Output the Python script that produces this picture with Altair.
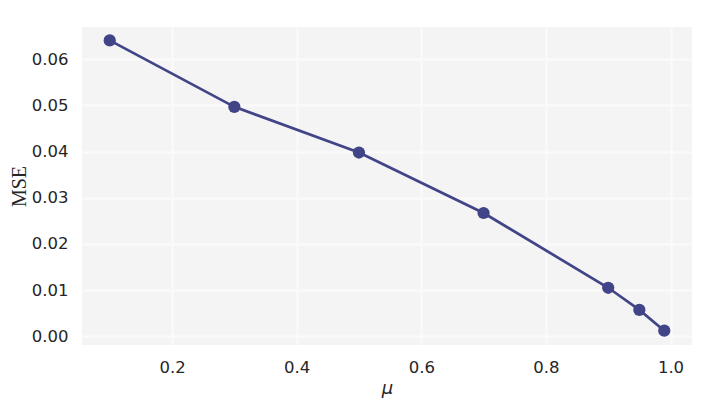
import altair as alt
import pandas as pd

mu = [0.1, 0.3, 0.5, 0.7, 0.9, 0.95, 0.99]
mse = [0.0641, 0.0497, 0.0398, 0.0267, 0.0105, 0.0057, 0.0012]
x_ticks = [0.2, 0.4, 0.6, 0.8, 1.0]
y_ticks = [0.00, 0.01, 0.02, 0.03, 0.04, 0.05, 0.06]

df = pd.DataFrame({"mu": mu, "mse": mse})
color = "#414487"

x = alt.X("mu:Q", scale=alt.Scale(domain=[0.0555, 1.0345], nice=False, zero=False),
          axis=alt.Axis(values=x_ticks, format=".1f", title="μ",
                        titleFont="DejaVu Sans", titleFontStyle="italic",
                        titleFontWeight="normal", titleFontSize=18, titlePadding=4))
y = alt.Y("mse:Q", scale=alt.Scale(domain=[-0.0019, 0.067], nice=False, zero=False),
          axis=alt.Axis(values=y_ticks, format=".2f", title="MSE",
                        titleFont="Liberation Serif", titleFontWeight="normal",
                        titleFontSize=20, titlePadding=2))

line = alt.Chart(df).mark_line(color=color, strokeWidth=2.7).encode(x=x, y=y)
pts = alt.Chart(df).mark_circle(color=color, opacity=1, size=150).encode(x=x, y=y)

chart = (line + pts).properties(
    width=610, height=318,
    autosize=alt.AutoSizeParams(type="none"),
    padding={"left": 74, "top": 19, "right": 10, "bottom": 60},
).configure_view(
    fill="#f4f4f4", stroke=None
).configure_axis(
    grid=True, gridColor="#fafafa", gridWidth=2.5, domain=False, ticks=False,
    labelFont="DejaVu Sans", labelFontSize=16.5, labelColor="#262626",
    labelPadding=14, titleColor="#262626"
)

chart.save("out.html", embed_options={"renderer": "svg", "actions": False})
